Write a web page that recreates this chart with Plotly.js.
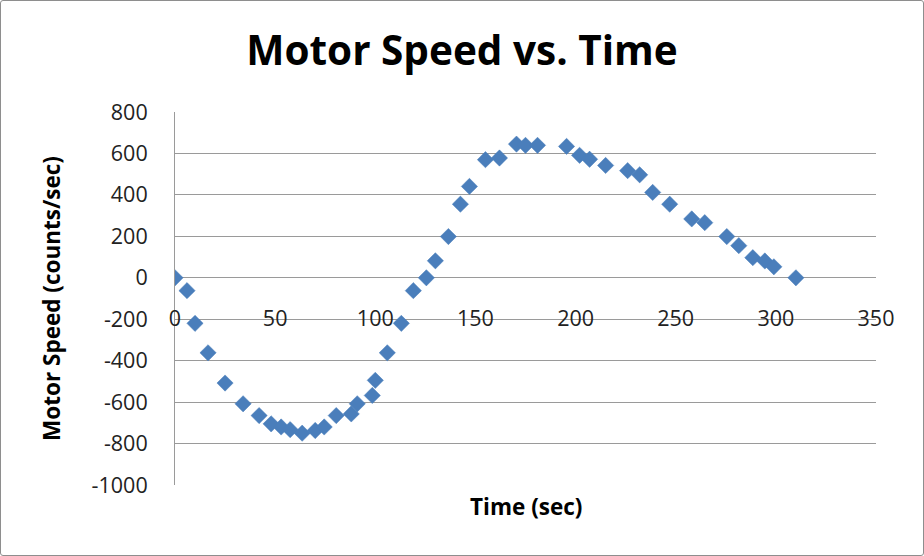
<!DOCTYPE html>
<html>
<head>
<meta charset="utf-8">
<script src="https://cdn.plot.ly/plotly-3.0.1.min.js"></script>
<style>
  html, body { margin: 0; padding: 0; background: #fff; }
  #chart { position: absolute; left: 0; top: 0; width: 924px; height: 556px; }
  #frame { position: absolute; left: 0; top: 0; width: 924px; height: 556px; box-sizing: border-box;
           border: 1px solid #8e8e8e; border-radius: 3px; pointer-events: none; }
</style>
</head>
<body>
<div id="chart"></div>
<div id="frame"></div>
<script>
const timeSec = [0, 6, 10, 16.5, 25, 34, 42, 48, 53, 57.5, 63.5, 70, 74.5, 80.5, 88, 91, 98.5, 100, 106, 113,
  119, 125.5, 130, 136.5, 142.5, 147, 155, 162, 170.5, 175, 181, 195.5, 202, 207, 215, 226, 232, 238.5, 247, 258,
  264.5, 275.5, 281.5, 288.5, 294.5, 299, 310];
const motorSpeed = [0, -62, -220, -362, -508, -608, -665, -705, -720, -733, -750, -737, -720, -665, -657, -608, -568, -495, -362, -220,
  -62, 0, 82, 199, 355, 441, 570, 578, 645, 639, 639, 634, 591, 572, 542, 517, 497, 412, 355, 284,
  266, 199, 155, 97, 81, 53, 0];
const xTicks = [0, 50, 100, 150, 200, 250, 300, 350];
const yTicks = [800, 600, 400, 200, 0, -200, -400, -600, -800, -1000];
const chartTitle = "Motor Speed vs. Time";
const xTitle = "Time (sec)";
const yTitle = "Motor Speed (counts/sec)";

const FONT = "Open Sans, Liberation Sans, Arial, sans-serif";
const yMin = -1000, yMax = 800;

const trace = {
  type: "scatter", mode: "markers",
  x: timeSec, y: motorSpeed,
  marker: { symbol: "diamond", size: 12.5, color: "#4a7ebb", line: { color: "#4a7ebb", width: 0.5 } },
  hoverinfo: "x+y"
};

const layout = {
  width: 924, height: 556,
  margin: { l: 175, r: 48, t: 112, b: 71 },
  paper_bgcolor: "#ffffff", plot_bgcolor: "#ffffff",
  showlegend: false,
  font: { family: FONT, color: "#000000" },
  title: { text: chartTitle, x: 0.5, xref: "container", xanchor: "center", y: 0.908, yref: "container", yanchor: "middle",
           font: { family: FONT, size: 40.5, color: "#000", weight: "bold" } },
  xaxis: {
    range: [0, 350], tickvals: xTicks, ticktext: xTicks.map(String),
    anchor: "free", position: (0 - yMin) / (yMax - yMin),
    showgrid: false, zeroline: false, showline: false,
    ticks: "", ticklabelstandoff: 26,
    tickfont: { family: FONT, size: 21.5, color: "#222" }
  },
  yaxis: {
    range: [yMin, yMax], tickvals: yTicks, ticktext: yTicks.map(String),
    showgrid: true, gridcolor: "#9a9a9a", gridwidth: 1,
    zeroline: false, showline: true, linecolor: "#9a9a9a", linewidth: 1,
    ticks: "", ticklabelstandoff: 22,
    tickfont: { family: FONT, size: 21.5, color: "#222" },
    title: { text: yTitle, font: { family: FONT, size: 22.5, color: "#000", weight: "bold" }, standoff: 24 }
  },
  annotations: [{
    text: xTitle, xref: "paper", yref: "paper", x: 0.5, y: -0.058, xanchor: "center", yanchor: "middle",
    showarrow: false, font: { family: FONT, size: 22.5, color: "#000", weight: "bold" }
  }]
};

Plotly.newPlot("chart", [trace], layout, { displayModeBar: false, staticPlot: true });
</script>
</body>
</html>
